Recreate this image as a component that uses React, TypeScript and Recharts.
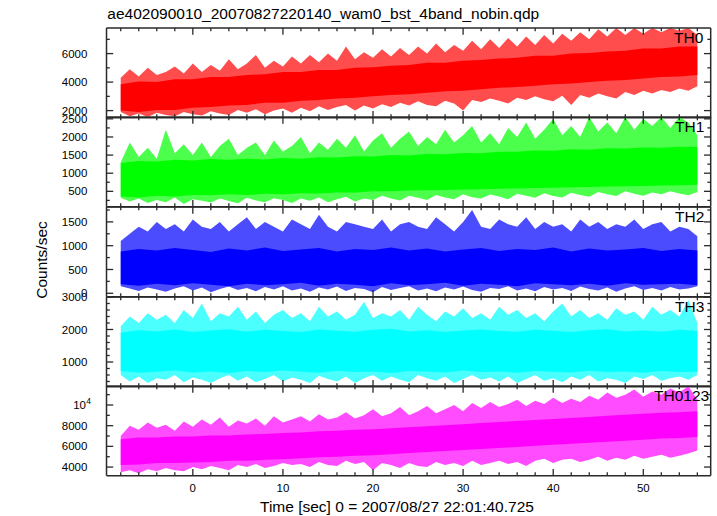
import React from 'react';
import { ComposedChart, Area, XAxis, YAxis } from 'recharts';

// ---------- data ----------
const TIME_1S = [-8,-7,-6,-5,-4,-3,-2,-1,0,1,2,3,4,5,6,7,8,9,10,11,12,13,14,15,16,17,18,19,20,21,22,23,24,25,26,27,28,29,30,31,32,33,34,35,36,37,38,39,40,41,42,43,44,45,46,47,48,49,50,51,52,53,54,55,56];
const TIME_2S = [-8,-6,-4,-2,0,2,4,6,8,10,12,14,16,18,20,22,24,26,28,30,32,34,36,38,40,42,44,46,48,50,52,54,56];
const X_TICKS = [-8,-6,-4,-2,0,2,4,6,8,10,12,14,16,18,20,22,24,26,28,30,32,34,36,38,40,42,44,46,48,50,52,54,56];
const X_LABELS = [0,10,20,30,40,50];

// TH0
const TH0_HI = [4300,4900,4400,5000,4500,4700,5100,4600,5300,4700,
  5200,4800,5600,4900,5300,5900,5000,5500,5100,5800,
  5300,5900,5400,6000,5500,6500,5600,6100,5700,6300,
  5800,6400,5900,6500,6000,6700,6100,6600,6200,6900,
  6300,7000,6400,7100,6500,7200,6600,7300,6700,7400,
  6900,7500,7000,7700,7200,7800,7300,7800,7400,7800,
  7500,7800,7600,7800,7300];
const TH0_LO = [1900,1600,1800,1550,1850,1700,1600,1900,1750,1650,
  1950,1800,1700,2050,1850,2100,1750,2000,2150,1850,
  2200,1950,2300,2050,2250,2400,2000,2350,2150,2450,
  2250,2550,2350,2650,2400,2300,2700,2500,2000,2750,
  2600,2850,2700,2500,2900,2750,3000,2800,2650,3050,
  2400,3100,2900,3200,3000,2850,3300,3100,3400,3200,
  3450,3300,3550,3400,3700];
const TH0_CORE_HI = [3850,4050,4000,4200,4200,4350,4350,4500,4550,4700,4700,4850,4850,5000,5050,5150,5200,5350,5350,5500,5550,5650,5700,5850,5850,6000,6050,6150,6200,6350,6350,6500,6500];
const TH0_CORE_LO = [2000,1900,2050,2050,2200,2250,2350,2400,2550,2550,2700,2750,2850,2900,3000,3100,3150,3250,3350,3400,3500,3600,3650,3750,3850,3900,4000,4100,4150,4250,4350,4400,4500];
const TH0_TICKS = [2000,3000,4000,5000,6000,7000];
const TH0_LABELS = [2000,4000,6000];

// TH1
const TH1_HI = [1300,1850,1450,1700,1400,2200,1550,1800,1500,1850,
  1450,1750,1950,1500,1700,1850,1500,1900,1600,1750,
  2000,1550,1850,1650,1950,1700,2050,1600,1900,2100,
  1700,1950,2150,1750,2000,1800,2200,1850,2050,2300,
  1850,2100,1800,2250,2000,2400,1950,2200,2500,2050,
  2300,2000,2550,2150,2400,2100,2550,2200,2500,2300,
  2550,2250,2550,2400,2050];
const TH1_LO = [320,220,300,180,260,200,330,150,280,240,
  190,300,230,170,320,250,200,310,260,180,
  300,240,330,200,280,350,220,300,260,380,
  300,250,380,320,260,400,330,280,420,340,
  300,410,360,280,430,380,320,450,370,330,
  460,400,350,480,420,370,500,430,380,470,
  420,500,440,390,480];
const TH1_CORE_HI = [1280,1340,1320,1370,1350,1390,1370,1400,1380,1420,1400,1440,1430,1470,1460,1500,1490,1530,1520,1560,1550,1590,1590,1630,1620,1660,1650,1690,1680,1710,1700,1730,1720];
const TH1_CORE_LO = [360,330,380,360,400,390,420,400,430,420,450,440,470,470,500,500,520,530,540,550,560,570,580,590,600,610,620,630,640,650,660,670,680];
const TH1_TICKS = [250,500,750,1000,1250,1500,1750,2000,2250,2500];
const TH1_LABELS = [500,1000,1500,2000,2500];

// TH2
const TH2_HI = [1100,1250,1400,1300,1500,1350,1450,1300,1550,1400,
  1350,1500,1300,1450,1600,1350,1500,1400,1300,1550,
  1450,1350,1650,1400,1300,1500,1450,1400,1350,1550,
  1300,1450,1500,1400,1350,1600,1450,1300,1500,1750,
  1400,1350,1550,1450,1400,1600,1350,1500,1400,1450,
  1300,1550,1400,1500,1350,1450,1400,1550,1350,1450,
  1500,1300,1400,1350,1200];
const TH2_LO = [150,100,50,120,80,30,100,150,60,120,
  20,90,140,70,110,40,130,80,150,60,
  100,30,120,80,140,50,110,90,20,130,
  70,110,150,60,100,40,120,80,140,70,
  30,110,90,150,60,100,40,130,80,110,
  50,140,90,60,120,30,100,150,70,110,
  60,130,80,100,150];
const TH2_CORE_HI = [880,930,900,950,910,870,940,900,960,890,920,950,880,930,910,960,900,940,880,920,950,890,930,910,960,880,940,900,920,950,890,930,900];
const TH2_CORE_LO = [190,160,200,170,210,180,150,200,170,190,220,160,200,180,150,210,170,190,220,160,200,180,150,210,190,170,200,160,210,180,190,200,170];
const TH2_TICKS = [0,250,500,750,1000,1250,1500,1750];
const TH2_LABELS = [0,500,1000,1500];

// TH3
const TH3_HI = [2100,2400,2200,2500,2300,2450,2200,2600,2350,2800,
  2250,2500,2400,2700,2300,2550,2200,2450,2600,2350,
  2500,2250,2700,2400,2550,2300,2450,2850,2350,2500,
  2400,2600,2300,2700,2450,2250,2550,2400,2650,2350,
  2500,2300,2700,2450,2600,2350,2500,2250,2550,2800,
  2400,2600,2350,2500,2300,2650,2450,2550,2300,2700,
  2450,2600,2400,2900,2200];
const TH3_LO = [600,400,550,350,500,450,600,380,520,450,
  350,500,600,420,550,380,480,600,400,520,
  450,350,580,480,400,550,350,500,600,420,
  550,450,380,600,500,420,550,350,480,600,
  450,520,400,550,350,480,600,420,500,380,
  550,450,600,400,500,450,350,550,480,600,
  420,500,550,450,600];
const TH3_CORE_HI = [1900,1980,1940,2000,1920,1970,2010,1930,1990,1950,1920,2000,1960,1930,1990,2020,1940,1980,1920,1970,2000,1950,1930,1990,1960,1920,1980,2010,1940,1970,1930,1990,1950];
const TH3_CORE_LO = [720,670,700,740,680,710,660,720,690,740,700,670,730,690,710,660,720,700,680,740,690,710,670,720,700,680,730,690,710,670,720,690,700];
const TH3_TICKS = [400,600,800,1000,1200,1400,1600,1800,2000,2200,2400,2600,2800,3000];
const TH3_LABELS = [1000,2000,3000];

// TH0123
const TH0123_HI = [7000,8000,7600,8300,7800,8100,7500,8400,7900,8600,
  8100,8800,7900,8500,8200,8700,8000,8900,8300,8600,
  8900,8400,9100,8600,8800,9300,8700,9000,9600,8900,
  9200,9800,9000,9400,9900,9200,9600,10000,9400,10200,
  9700,10300,9800,10100,10500,9900,10400,10100,10700,10200,
  10600,10300,10900,10500,11200,10700,11000,11500,10800,11300,
  11000,11600,11200,11800,10500];
const TH0123_LO = [3500,3700,3400,3800,3600,3900,3700,3600,4000,3800,
  4100,3900,3700,4200,4000,4300,3900,4100,4400,4200,
  4300,4000,4500,4200,4100,4600,4300,4500,3700,4400,
  4200,3900,4400,4100,4000,4500,4200,4400,4100,4600,
  4200,4400,4600,4300,4500,4100,4600,4800,4400,4700,
  4800,4500,4700,5000,4600,4900,4700,5100,4800,5000,
  5200,4900,5100,5300,5600];
const TH0123_CORE_HI = [6700,6850,6850,6950,6950,7050,7050,7150,7200,7300,7350,7450,7500,7600,7650,7750,7850,7950,8050,8150,8250,8350,8450,8550,8650,8750,8850,8950,9050,9150,9250,9300,9400];
const TH0123_CORE_LO = [4200,4250,4400,4400,4450,4500,4600,4600,4700,4750,4850,4950,5000,5100,5150,5250,5350,5450,5550,5650,5750,5850,5950,6050,6150,6250,6350,6450,6550,6650,6750,6800,6900];
const TH0123_TICKS = [4000,5000,6000,7000,8000,9000,10000,11000];
const TH0123_LABELS = [4000,6000,8000,10000];

const PANEL_NAMES = ['TH0', 'TH1', 'TH2', 'TH3', 'TH0123'];
const Y_DOMAINS: [number, number][] = [[1505, 7796], [77, 2551], [-71, 1813], [241, 3000], [3169, 11836]];

// ---------- layout / style ----------
const W = 717;
const H = 516;
const PLOT_LEFT = 106.5;
const PLOT_RIGHT = 710.7;
const TOP0 = 27.7;
const PANEL_H = 89.66;
const PAD = 24;
const X_DOMAIN: [number, number] = [-9.58, 57.48];
const COLORS = ['#ff0000', '#00ff00', '#0000ff', '#00ffff', '#ff00ff'];
const LABEL_X = [674, 675, 675, 675, 654];
const AXIS_COLOR = '#2a2a2a';
const FONT = '"Liberation Sans", Arial, Helvetica, sans-serif';
const MAJOR = 6.7;
const MINOR = 3.3;

const panels = [
  { hi: TH0_HI, lo: TH0_LO, cHi: TH0_CORE_HI, cLo: TH0_CORE_LO, ticks: TH0_TICKS, labels: TH0_LABELS },
  { hi: TH1_HI, lo: TH1_LO, cHi: TH1_CORE_HI, cLo: TH1_CORE_LO, ticks: TH1_TICKS, labels: TH1_LABELS },
  { hi: TH2_HI, lo: TH2_LO, cHi: TH2_CORE_HI, cLo: TH2_CORE_LO, ticks: TH2_TICKS, labels: TH2_LABELS },
  { hi: TH3_HI, lo: TH3_LO, cHi: TH3_CORE_HI, cLo: TH3_CORE_LO, ticks: TH3_TICKS, labels: TH3_LABELS },
  { hi: TH0123_HI, lo: TH0123_LO, cHi: TH0123_CORE_HI, cLo: TH0123_CORE_LO, ticks: TH0123_TICKS, labels: TH0123_LABELS },
];

function makeXTick(side: 'top' | 'bottom', showLabels: boolean) {
  return (props: any) => {
    const { x, y, payload } = props;
    const v = payload.value;
    const major = X_LABELS.includes(v);
    const len = major ? MAJOR : MINOR;
    const dir = side === 'bottom' ? -1 : 1;
    return (
      <g>
        <line x1={x} y1={y} x2={x} y2={y + dir * len} stroke={AXIS_COLOR} strokeWidth={1.3} />
        {showLabels && major ? (
          <text x={x} y={y + 16} textAnchor="middle" fontFamily={FONT} fontSize={11.5} fill="#000">
            {v}
          </text>
        ) : null}
      </g>
    );
  };
}

function makeYTick(side: 'left' | 'right', labels: number[]) {
  return (props: any) => {
    const { x, y, payload } = props;
    const v = payload.value;
    const major = labels.includes(v);
    const len = major ? MAJOR : MINOR;
    const dir = side === 'left' ? 1 : -1;
    let label: React.ReactNode = null;
    if (side === 'left' && major) {
      if (v === 10000) {
        label = (
          <g>
            <text x={x - 20.5} y={y + 4.1} textAnchor="end" fontFamily={FONT} fontSize={11.5} fill="#000">10</text>
            <text x={x - 20.2} y={y - 0.5} textAnchor="start" fontFamily={FONT} fontSize={8.5} fill="#000">4</text>
          </g>
        );
      } else {
        label = (
          <text x={x - 19.2} y={y + 4.1} textAnchor="end" fontFamily={FONT} fontSize={11.5} fill="#000">
            {v}
          </text>
        );
      }
    }
    return (
      <g>
        <line x1={x} y1={y} x2={x + dir * len} y2={y} stroke={AXIS_COLOR} strokeWidth={1.3} />
        {label}
      </g>
    );
  };
}

function Panel({ index }: { index: number }) {
  const p = panels[index];
  const env = TIME_1S.map((t, i) => ({ t, v: [p.lo[i], p.hi[i]] }));
  const core = TIME_2S.map((t, i) => ({ t, v: [p.cLo[i], p.cHi[i]] }));
  const top = TOP0 + index * PANEL_H;
  const isLast = index === panels.length - 1;
  const color = COLORS[index];
  const axisLine = { stroke: AXIS_COLOR, strokeWidth: 1.5 };
  const chartH = PANEL_H + 2 * PAD;
  return (
    <div style={{ position: 'absolute', left: 0, top: top - PAD, width: W, height: chartH }}>
      <ComposedChart
        width={W}
        height={chartH}
        margin={{ top: PAD - 1, bottom: PAD - 1, left: PLOT_LEFT - 1, right: W - PLOT_RIGHT - 1 }}
        data={env}
      >
        <Area xAxisId="b" yAxisId="l" data={env} dataKey="v" type="linear" stroke="none"
          fill={color} fillOpacity={0.7} dot={false} activeDot={false} isAnimationActive={false} />
        <Area xAxisId="b" yAxisId="l" data={core} dataKey="v" type="linear" stroke="none"
          fill={color} fillOpacity={1} dot={false} activeDot={false} isAnimationActive={false} />
        <XAxis xAxisId="b" dataKey="t" type="number" domain={X_DOMAIN} allowDataOverflow
          ticks={X_TICKS} interval={0} height={1} tickSize={0} tickMargin={0}
          axisLine={axisLine} tickLine={false} tick={makeXTick('bottom', isLast)} />
        <XAxis xAxisId="t" orientation="top" dataKey="t" type="number" domain={X_DOMAIN} allowDataOverflow
          ticks={X_TICKS} interval={0} height={1} tickSize={0} tickMargin={0}
          axisLine={axisLine} tickLine={false} tick={makeXTick('top', false)} />
        <YAxis yAxisId="l" type="number" domain={Y_DOMAINS[index]} allowDataOverflow
          ticks={p.ticks} interval={0} width={1} tickSize={0} tickMargin={0}
          axisLine={axisLine} tickLine={false} tick={makeYTick('left', p.labels)} />
        <YAxis yAxisId="r" orientation="right" type="number" domain={Y_DOMAINS[index]} allowDataOverflow
          ticks={p.ticks} interval={0} width={1} tickSize={0} tickMargin={0}
          axisLine={axisLine} tickLine={false} tick={makeYTick('right', p.labels)} />
      </ComposedChart>
      <svg width={W} height={chartH} style={{ position: 'absolute', left: 0, top: 0, pointerEvents: 'none' }}>
        <text x={LABEL_X[index]} y={PAD + 15.3} fontFamily={FONT} fontSize={15.5} fill="#000">
          {PANEL_NAMES[index]}
        </text>
      </svg>
    </div>
  );
}

export default function App() {
  return (
    <div style={{ position: 'absolute', left: 0, top: 0, width: W, height: H, background: '#fff' }}>
      {panels.map((_, i) => (
        <Panel key={i} index={i} />
      ))}
      <svg width={W} height={H} style={{ position: 'absolute', left: 0, top: 0, pointerEvents: 'none' }}>
        <text x={107.3} y={19.3} fontFamily={FONT} fontSize={15.5} fill="#000">
          ae402090010_20070827220140_wam0_bst_4band_nobin.qdp
        </text>
        <text x={41} y={260} textAnchor="middle" dominantBaseline="central"
          transform="rotate(-90 41 260)" fontFamily={FONT} fontSize={15.5} fill="#000">
          Counts/sec
        </text>
        <text x={260} y={511.8} fontFamily={FONT} fontSize={15.5} fill="#000">
          Time [sec] 0 = 2007/08/27 22:01:40.725
        </text>
      </svg>
    </div>
  );
}
